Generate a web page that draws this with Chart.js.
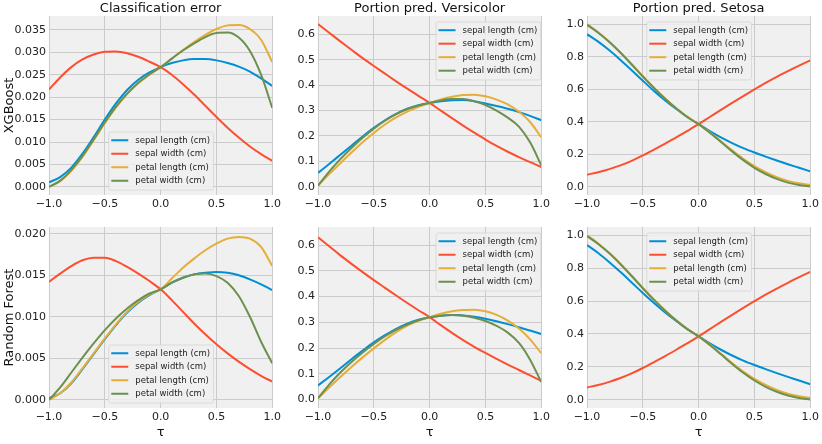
<!DOCTYPE html>
<html><head><meta charset="utf-8">
<script src="https://cdn.jsdelivr.net/npm/chart.js@4"></script>
<style>
html,body{margin:0;padding:0;background:#fff;width:822px;height:444px;overflow:hidden}
.cell{position:absolute}
</style></head><body>
<div id="cells"></div>
<script>
// ---------- data ----------
const tau = [-1.0,-0.9,-0.8,-0.7,-0.6,-0.5,-0.4,-0.3,-0.2,-0.1,0.0,0.1,0.2,0.3,0.4,0.5,0.6,0.7,0.8,0.9,1.0];
const featureNames = ['sepal length (cm)','sepal width (cm)','petal length (cm)','petal width (cm)'];
const panelTitles = ['Classification error','Portion pred. Versicolor','Portion pred. Setosa'];
const modelNames = ['XGBoost','Random Forest'];
const xTickValues = [-1,-0.5,0,0.5,1];
const xTickLabels = ['\u22121.0','\u22120.5','0.0','0.5','1.0'];
const xgbErrTicks = [0,0.005,0.010,0.015,0.020,0.025,0.030,0.035];
const xgbErrTickLabels = ['0.000','0.005','0.010','0.015','0.020','0.025','0.030','0.035'];
const rfErrTicks = [0,0.005,0.010,0.015,0.020];
const rfErrTickLabels = ['0.000','0.005','0.010','0.015','0.020'];
const verTicks = [0,0.1,0.2,0.3,0.4,0.5,0.6];
const verTickLabels = ['0.0','0.1','0.2','0.3','0.4','0.5','0.6'];
const setTicks = [0,0.2,0.4,0.6,0.8,1.0];
const setTickLabels = ['0.0','0.2','0.4','0.6','0.8','1.0'];

const xgbErrSepalLength = [0.0010,0.0022,0.0043,0.0074,0.0111,0.0150,0.0186,0.0216,0.0239,0.0255,0.0267,0.0276,0.0282,0.0285,0.0285,0.0282,0.0276,0.0268,0.0257,0.0242,0.0225];
const xgbErrSepalWidth  = [0.0217,0.0244,0.0267,0.0284,0.0295,0.0301,0.0302,0.0298,0.0290,0.0279,0.0267,0.0250,0.0229,0.0206,0.0181,0.0156,0.0132,0.0110,0.0090,0.0073,0.0058];
const xgbErrPetalLength = [0.0000,0.0013,0.0036,0.0067,0.0104,0.0142,0.0177,0.0207,0.0231,0.0250,0.0267,0.0286,0.0305,0.0323,0.0339,0.0352,0.0360,0.0361,0.0352,0.0328,0.0278];
const xgbErrPetalWidth  = [0.0000,0.0014,0.0038,0.0069,0.0106,0.0144,0.0179,0.0208,0.0232,0.0251,0.0267,0.0286,0.0304,0.0320,0.0334,0.0343,0.0344,0.0333,0.0303,0.0250,0.0176];

const xgbVerSepalLength = [0.055,0.090,0.126,0.162,0.198,0.232,0.262,0.287,0.307,0.321,0.330,0.337,0.341,0.342,0.337,0.328,0.318,0.307,0.294,0.279,0.262];
const xgbVerSepalWidth  = [0.640,0.606,0.572,0.539,0.506,0.475,0.445,0.415,0.386,0.358,0.330,0.300,0.270,0.241,0.213,0.186,0.161,0.138,0.117,0.097,0.078];
const xgbVerPetalLength = [0.005,0.050,0.093,0.135,0.175,0.212,0.245,0.273,0.296,0.315,0.330,0.344,0.354,0.361,0.362,0.356,0.343,0.324,0.295,0.255,0.195];
const xgbVerPetalWidth  = [0.005,0.060,0.109,0.153,0.193,0.229,0.260,0.286,0.306,0.320,0.330,0.340,0.345,0.345,0.336,0.322,0.300,0.272,0.237,0.175,0.085];

const xgbSetSepalLength = [0.938,0.892,0.839,0.780,0.717,0.652,0.589,0.531,0.478,0.429,0.385,0.343,0.304,0.269,0.238,0.211,0.186,0.162,0.139,0.117,0.095];
const xgbSetSepalWidth  = [0.075,0.090,0.109,0.132,0.160,0.193,0.229,0.266,0.304,0.344,0.385,0.429,0.473,0.516,0.558,0.599,0.639,0.676,0.711,0.745,0.777];
const xgbSetPetalLength = [1.000,0.950,0.892,0.826,0.754,0.680,0.609,0.543,0.483,0.430,0.385,0.335,0.280,0.224,0.172,0.127,0.090,0.060,0.037,0.022,0.012];
const xgbSetPetalWidth  = [0.995,0.947,0.890,0.824,0.752,0.678,0.607,0.541,0.481,0.428,0.385,0.333,0.276,0.218,0.164,0.117,0.079,0.049,0.026,0.011,0.003];

const rfErrSepalLength = [0.0002,0.0008,0.0020,0.0037,0.0055,0.0073,0.0090,0.0105,0.0117,0.0126,0.0133,0.0141,0.0147,0.0151,0.0153,0.0154,0.0153,0.0150,0.0145,0.0139,0.0132];
const rfErrSepalWidth  = [0.0142,0.0152,0.0161,0.0168,0.0171,0.0171,0.0167,0.0160,0.0152,0.0143,0.0133,0.0120,0.0106,0.0092,0.0079,0.0067,0.0056,0.0046,0.0037,0.0029,0.0022];
const rfErrPetalLength = [0.0000,0.0008,0.0021,0.0038,0.0056,0.0074,0.0091,0.0106,0.0118,0.0127,0.0133,0.0146,0.0159,0.0170,0.0180,0.0188,0.0194,0.0196,0.0194,0.0184,0.0161];
const rfErrPetalWidth  = [0.0000,0.0015,0.0033,0.0051,0.0068,0.0084,0.0098,0.0110,0.0120,0.0128,0.0133,0.0141,0.0147,0.0151,0.0152,0.0149,0.0141,0.0125,0.0100,0.0070,0.0044];

const rfVerSepalLength = [0.055,0.088,0.122,0.157,0.190,0.222,0.250,0.275,0.295,0.310,0.320,0.326,0.328,0.327,0.322,0.314,0.304,0.293,0.281,0.268,0.255];
const rfVerSepalWidth  = [0.630,0.595,0.560,0.527,0.495,0.464,0.434,0.404,0.375,0.347,0.320,0.289,0.259,0.231,0.205,0.181,0.158,0.136,0.115,0.094,0.073];
const rfVerPetalLength = [0.005,0.047,0.088,0.127,0.164,0.199,0.232,0.262,0.287,0.306,0.320,0.333,0.343,0.348,0.349,0.343,0.329,0.307,0.276,0.234,0.180];
const rfVerPetalWidth  = [0.005,0.058,0.105,0.146,0.183,0.216,0.246,0.271,0.291,0.308,0.320,0.326,0.328,0.326,0.318,0.305,0.286,0.260,0.220,0.155,0.068];

const rfSetSepalLength = [0.940,0.892,0.836,0.776,0.713,0.649,0.588,0.531,0.479,0.430,0.385,0.343,0.304,0.269,0.238,0.211,0.186,0.162,0.139,0.117,0.094];
const rfSetSepalWidth  = [0.075,0.090,0.109,0.132,0.160,0.193,0.229,0.266,0.304,0.344,0.385,0.429,0.473,0.516,0.558,0.599,0.639,0.676,0.711,0.745,0.777];
const rfSetPetalLength = [1.000,0.950,0.892,0.826,0.754,0.680,0.609,0.543,0.483,0.430,0.385,0.335,0.280,0.224,0.172,0.127,0.090,0.060,0.037,0.022,0.011];
const rfSetPetalWidth  = [0.995,0.947,0.890,0.824,0.752,0.678,0.607,0.541,0.481,0.428,0.385,0.333,0.276,0.218,0.164,0.117,0.079,0.049,0.026,0.011,0.002];

// ---------- styles / layout ----------
const seriesColors = ['#008fd5','#fc4f30','#e5ae38','#6d904f'];
const FONT = '"DejaVu Sans", "Liberation Sans", sans-serif';
Chart.defaults.font.family = FONT;
Chart.defaults.color = '#222';

const panels = [
  {row:0,col:0,series:[xgbErrSepalLength,xgbErrSepalWidth,xgbErrPetalLength,xgbErrPetalWidth],yt:xgbErrTicks,yl:xgbErrTickLabels,ymin:-0.0018,ymax:0.0381,loc:'lower center'},
  {row:0,col:1,series:[xgbVerSepalLength,xgbVerSepalWidth,xgbVerPetalLength,xgbVerPetalWidth],yt:verTicks,yl:verTickLabels,ymin:-0.032,ymax:0.672,loc:'upper right'},
  {row:0,col:2,series:[xgbSetSepalLength,xgbSetSepalWidth,xgbSetPetalLength,xgbSetPetalWidth],yt:setTicks,yl:setTickLabels,ymin:-0.05,ymax:1.05,loc:'upper center'},
  {row:1,col:0,series:[rfErrSepalLength,rfErrSepalWidth,rfErrPetalLength,rfErrPetalWidth],yt:rfErrTicks,yl:rfErrTickLabels,ymin:-0.00097,ymax:0.0208,loc:'lower center'},
  {row:1,col:1,series:[rfVerSepalLength,rfVerSepalWidth,rfVerPetalLength,rfVerPetalWidth],yt:verTicks,yl:verTickLabels,ymin:-0.0325,ymax:0.67,loc:'upper right'},
  {row:1,col:2,series:[rfSetSepalLength,rfSetSepalWidth,rfSetPetalLength,rfSetPetalWidth],yt:setTicks,yl:setTickLabels,ymin:-0.05,ymax:1.05,loc:'upper center'}
];
const colLeft = [0,269,538];
const rowGeom = [
  {top:0,height:215,padTop:1,xAxisH:20},
  {top:217,height:227,padTop:10,xAxisH:36}
];
const Y_AXIS_W = 49, CELL_W = 284, PAD_RIGHT = 10;

const axesFace = {
  id:'axesFace',
  beforeDraw(chart){
    const {ctx, chartArea:a} = chart;
    ctx.save(); ctx.fillStyle = '#f0f0f0';
    ctx.fillRect(a.left, a.top, a.right-a.left, a.bottom-a.top);
    ctx.restore();
  }
};

const insideLegend = {
  id:'insideLegend',
  afterDatasetsDraw(chart, args, o){
    if (!o || !o.loc) return;
    const {ctx, chartArea:a} = chart;
    const ds = chart.data.datasets;
    ctx.save();
    ctx.font = o.fontSize + 'px ' + FONT;
    const tw = Math.max(...ds.map(d => ctx.measureText(d.label).width));
    const w = o.padX + o.handle + o.gap + tw + o.padX;
    const h = o.padY*2 + ds.length*o.row;
    const [v, hz] = o.loc.split(' ');
    let x, y;
    if (hz === 'center') x = (a.left+a.right)/2 - w/2;
    else if (hz === 'right') x = a.right - o.marginX - w;
    else x = a.left + o.marginX;
    if (v === 'upper') y = a.top + o.marginY; else y = a.bottom - o.marginY - h;
    ctx.beginPath();
    if (ctx.roundRect) ctx.roundRect(x+0.5, y+0.5, w, h, 2); else ctx.rect(x+0.5, y+0.5, w, h);
    ctx.fillStyle = 'rgba(240,240,240,0.85)';
    ctx.fill();
    ctx.lineWidth = 0.8; ctx.strokeStyle = '#d4d4d4'; ctx.stroke();
    ds.forEach((d, i) => {
      const cy = y + o.padY + o.row*(i+0.5);
      ctx.beginPath();
      ctx.moveTo(x + o.padX, cy); ctx.lineTo(x + o.padX + o.handle, cy);
      ctx.strokeStyle = d.borderColor; ctx.lineWidth = 2; ctx.stroke();
      ctx.fillStyle = '#222'; ctx.textBaseline = 'middle'; ctx.textAlign = 'left';
      ctx.fillText(d.label, x + o.padX + o.handle + o.gap, cy + 0.5);
    });
    ctx.restore();
  }
};

const cells = document.getElementById('cells');
panels.forEach((p, idx) => {
  const g = rowGeom[p.row];
  const div = document.createElement('div');
  div.className = 'cell';
  div.style.left = colLeft[p.col] + 'px';
  div.style.top = g.top + 'px';
  div.style.width = CELL_W + 'px';
  div.style.height = g.height + 'px';
  const cv = document.createElement('canvas');
  div.appendChild(cv);
  cells.appendChild(div);

  const datasets = p.series.map((arr, i) => ({
    label: featureNames[i],
    data: arr.map((v, k) => ({x: tau[k], y: v})),
    borderColor: seriesColors[i],
    backgroundColor: seriesColors[i],
    borderWidth: 2,
    pointRadius: 0,
    fill: false,
    cubicInterpolationMode: 'monotone',
    order: 3 - i
  }));

  new Chart(cv, {
    type: 'line',
    data: {datasets},
    options: {
      responsive: true,
      maintainAspectRatio: false,
      animation: false,
      events: [],
      layout: {padding: {left:0, right:PAD_RIGHT, top:g.padTop, bottom:0}},
      plugins: {
        legend: {display:false},
        tooltip: {enabled:false},
        title: {
          display: p.row === 0,
          fullSize: false,
          text: panelTitles[p.col],
          color: '#111',
          font: {size:13, weight:'normal', lineHeight:1.15},
          padding: {top:0, bottom:0}
        },
        insideLegend: {loc:p.loc, fontSize:8.5, padX:3, padY:2, handle:17, gap:7, row:13.5, marginX:1, marginY:5.5}
      },
      scales: {
        x: {
          type: 'linear', min: -1, max: 1,
          afterBuildTicks: s => { s.ticks = xTickValues.map(v => ({value:v})); },
          afterFit: s => { s.height = g.xAxisH; },
          ticks: {callback: (v, i) => xTickLabels[i], autoSkip:false, maxRotation:0, padding:3, font:{size:11}, color:'#222'},
          grid: {color:'#cbcbcb', lineWidth:1, drawTicks:false},
          border: {display:false},
          title: {display: p.row === 1, text:'\u03c4', font:{size:13}, color:'#111', padding:{top:0,bottom:4}}
        },
        y: {
          type: 'linear', min: p.ymin, max: p.ymax,
          afterBuildTicks: s => { s.ticks = p.yt.map(v => ({value:v})); },
          afterFit: s => { s.width = Y_AXIS_W; },
          ticks: {callback: (v, i) => p.yl[i], autoSkip:false, padding:3, font:{size:11}, color:'#222'},
          grid: {color:'#cbcbcb', lineWidth:1, drawTicks:false},
          border: {display:false},
          title: {display: p.col === 0, text: modelNames[p.row], font:{size:13}, color:'#111', padding:{top:2,bottom:0}}
        }
      }
    },
    plugins: [axesFace, insideLegend]
  });
});
</script>
</body></html>
